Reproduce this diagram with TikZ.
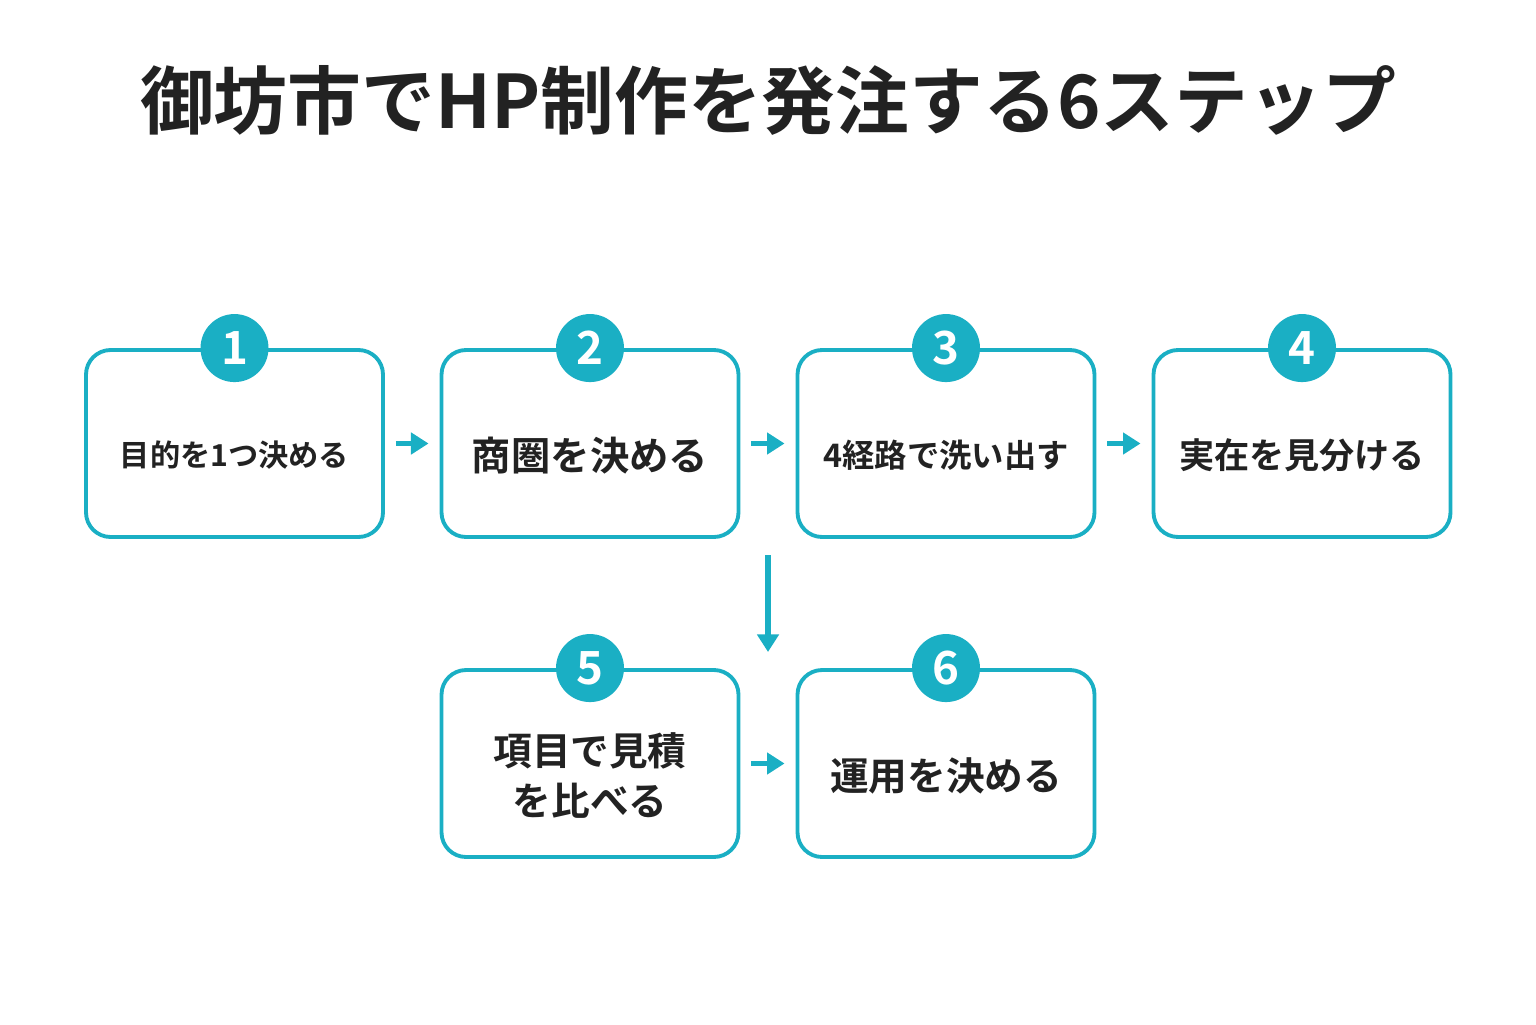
\documentclass[tikz,border=0pt]{standalone}
\usepackage{fontspec}
\newfontfamily\cjk{Noto Sans CJK JP}[BoldFont={Noto Sans CJK JP Bold}]
\usetikzlibrary{arrows.meta,positioning}
\definecolor{teal1}{HTML}{1AAFC4}
\definecolor{ink}{HTML}{222222}
\tikzset{
    stepbox/.style={draw=teal1,line width=1.1pt,rounded corners=7pt,minimum width=2.97cm,minimum height=1.87cm,fill=white},
    num/.style={circle,fill=teal1,minimum size=0.68cm,inner sep=0pt,text=white,font=\cjk\bfseries\fontsize{13}{13}\selectfont},
    lbl/.style={text=ink,align=center,font=\cjk\bfseries},
    go/.style={-{Triangle[length=5pt,width=6pt]},draw=teal1,line width=1.6pt}
}
\begin{document}
\begin{tikzpicture}[x=1cm,y=1cm]
 \useasboundingbox (0,0) rectangle (15.36,10.24);
 \node[text=ink,font=\cjk\bfseries\fontsize{21}{21}\selectfont] (title) at (7.68,9.24) {御坊市でHP制作を発注する6ステップ};
 % boxes
 \foreach \i/\x/\y in {1/2.345/5.805,2/5.90/5.805,3/9.46/5.805,4/13.02/5.805,5/5.90/2.605,6/9.46/2.605}{
   \node[stepbox] (b\i) at (\x,\y) {};
   \node[num] (n\i) at (b\i.north) {\i};
 }
 \node[lbl,font=\cjk\bfseries\fontsize{8.6}{10}\selectfont] (t1) at ([yshift=-0.12cm]b1.center) {目的を1つ決める};
 \node[lbl,font=\cjk\bfseries\fontsize{11.2}{13}\selectfont] (t2) at ([yshift=-0.12cm]b2.center) {商圏を決める};
 \node[lbl,font=\cjk\bfseries\fontsize{9.2}{11}\selectfont] (t3) at ([yshift=-0.12cm]b3.center) {4経路で洗い出す};
 \node[lbl,font=\cjk\bfseries\fontsize{10}{12}\selectfont] (t4) at ([yshift=-0.12cm]b4.center) {実在を見分ける};
 \node[lbl,font=\cjk\bfseries\fontsize{11}{14.5}\selectfont] (t5) at ([yshift=-0.12cm]b5.center) {項目で見積\\を比べる};
 \node[lbl,font=\cjk\bfseries\fontsize{11}{13}\selectfont] (t6) at ([yshift=-0.12cm]b6.center) {運用を決める};
 % arrows
 \foreach \a/\b in {b1/b2,b2/b3,b3/b4,b5/b6}{
   \draw[go] ([xshift=0.11cm]\a.east) -- ([xshift=-0.11cm]\b.west);
 }
 \coordinate (d1) at (7.68,4.69);
 \coordinate (d2) at (7.68,3.72);
 \draw[go] (d1) -- (d2);
\end{tikzpicture}
\end{document}
